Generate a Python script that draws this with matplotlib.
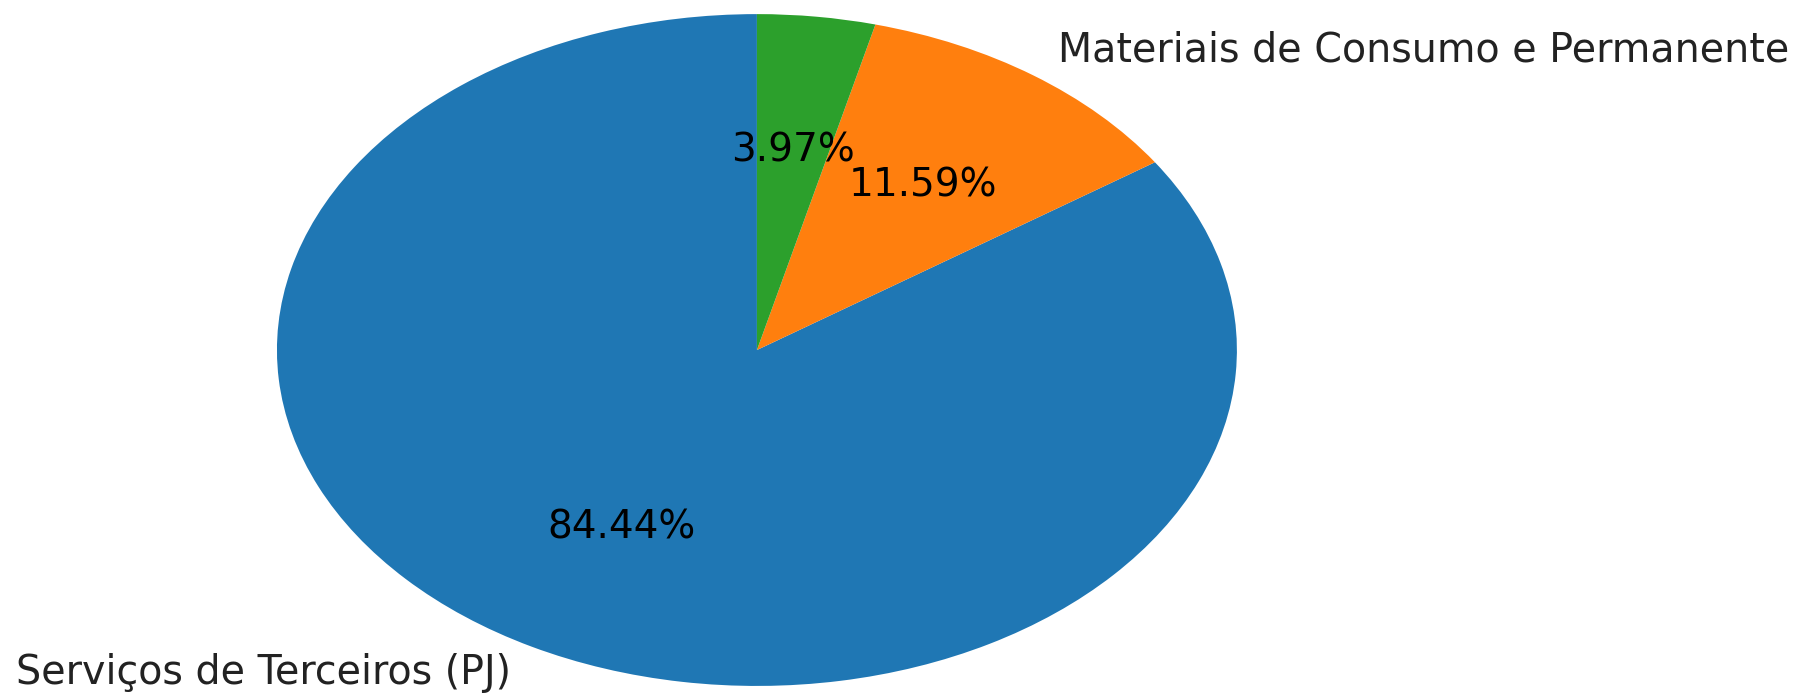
import matplotlib
matplotlib.use("Agg")
import matplotlib.pyplot as plt

categorias = ["Serviços de Terceiros (PJ)", "Materiais de Consumo e Permanente", ""]
valores = [84.44, 11.59, 3.97]
cores = ["#1f77b4", "#ff7f0e", "#2ca02c"]

fig = plt.figure(figsize=(17.98, 6.93), dpi=100)
ax = fig.add_axes([0, 0, 1, 1])

wedges, textos, pcts = ax.pie(valores, labels=categorias, colors=cores,
                              autopct="%1.2f%%", startangle=90,
                              labeldistance=1.09,
                              textprops={"fontsize": 28})
for t in textos:
    t.set_fontsize(28.5)
    t.set_color("#222222")

# pie stretched to fill the axes, like the original
ax.set_aspect("auto")
ax.set_xlim(-1.577, 2.169)
ax.set_ylim(-1.021, 1.042)
ax.axis("off")

fig.savefig("out.png", dpi=100)
